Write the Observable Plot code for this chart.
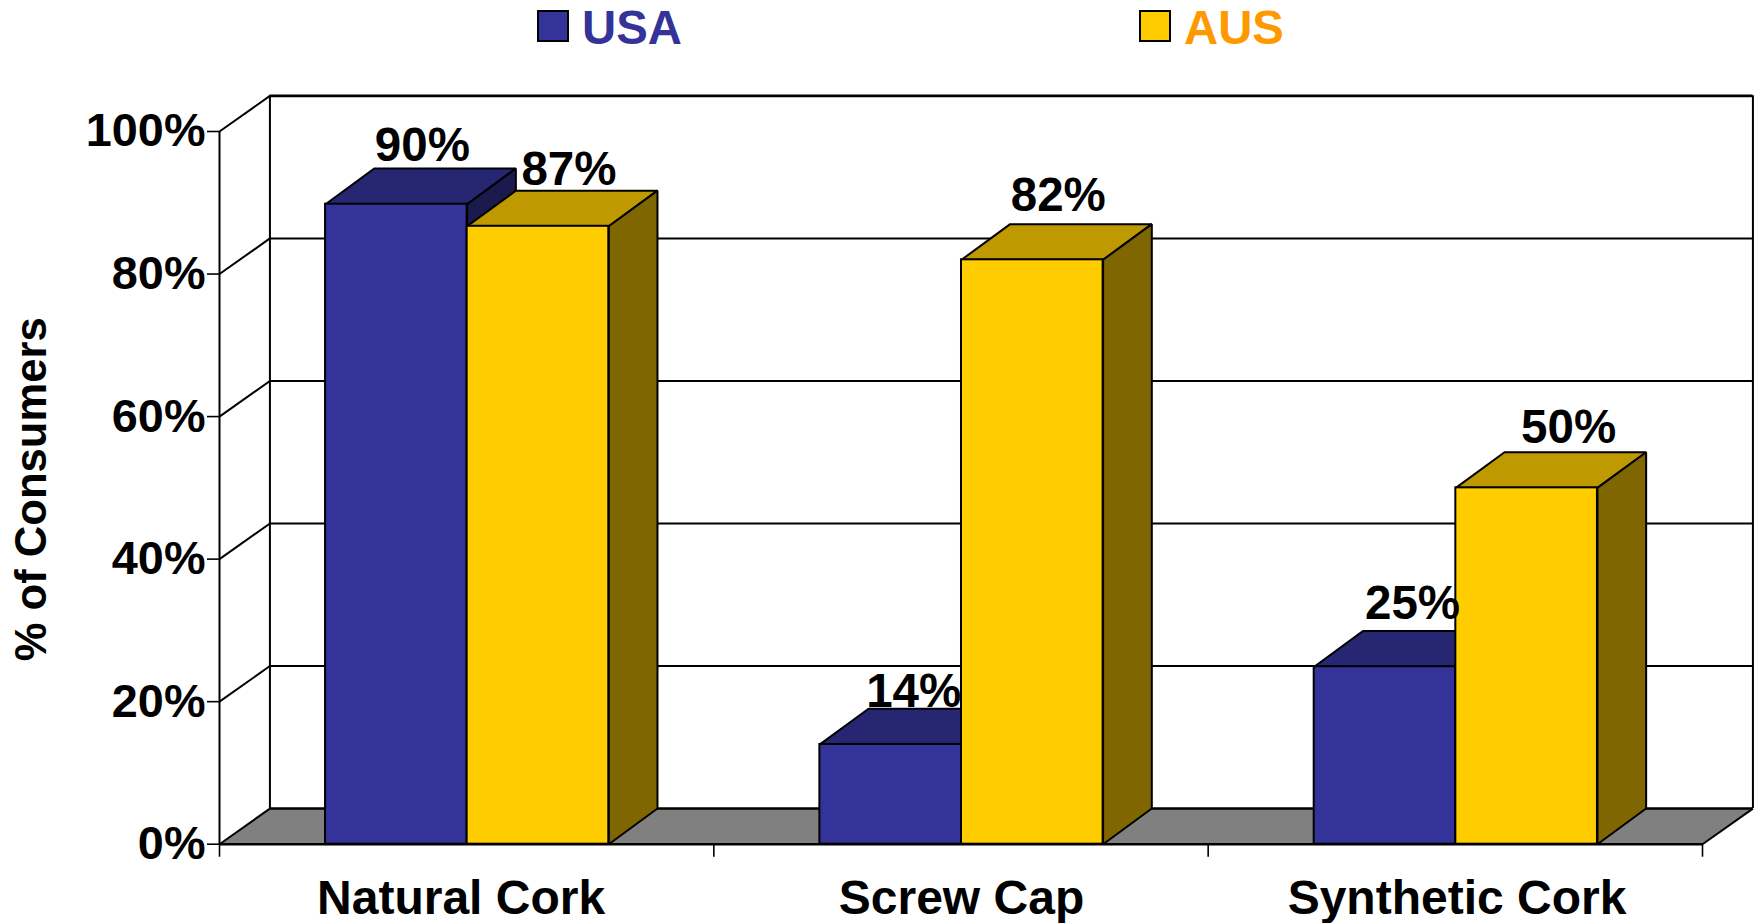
<!DOCTYPE html>
<html>
<head>
<meta charset="utf-8">
<script src="https://cdn.jsdelivr.net/npm/d3@7"></script>
<script src="https://cdn.jsdelivr.net/npm/@observablehq/plot@0.6"></script>
<style>
  html, body { margin: 0; padding: 0; background: #fff; overflow: hidden; }
  #legend { position: relative; height: 60px; width: 1757px; font: bold 47.3px/46px "Liberation Sans", Arial, sans-serif; }
  #legend .sw { position: absolute; top: 10px; width: 32px; height: 32px; box-sizing: border-box; border: 2px solid #000; }
  #legend .tx { position: absolute; top: 5px; }
</style>
</head>
<body>
<div id="legend"></div>
<div id="chart"></div>
<script>
// Data
const categories = ["Natural Cork", "Screw Cap", "Synthetic Cork"];
const seriesNames = ["USA", "AUS"];
const usa = [89.8, 14, 24.9];
const aus = [86.7, 82, 50];
const yTicks = [0, 20, 40, 60, 80, 100];
const xBoundaries = [0, 1, 2, 3];

// Styling
const faceColors = {
  USA: { front: "#333399", top: "#262673", side: "#1A1A4D" },
  AUS: { front: "#FFCC00", top: "#BF9900", side: "#806600" }
};
const legendColors = { USA: "#333399", AUS: "#FF9900" };
const legendPos = { USA: [537, 582], AUS: [1139, 1184] };
const font = "'Liberation Sans', Arial, sans-serif";

// 3D projection in data units
const wallDX = 0.102, depthY = 5, barDepthX = 0.0985;
const groupPad = 0.2145, barW = 0.2865;

// Hand placement of the labels (px offsets)
const labelNudge = {
  USA: [[26, -43], [23, -37], [27.5, -48]],
  AUS: [[31, -41], [26, -48.5], [42, -45]]
};
const categoryNudge = [-5.6, 0.5, 1.7];

// Legend
const legend = document.getElementById("legend");
for (const s of seriesNames) {
  const sw = document.createElement("div");
  sw.className = "sw";
  sw.style.left = legendPos[s][0] + "px";
  sw.style.background = faceColors[s].front;
  const tx = document.createElement("div");
  tx.className = "tx";
  tx.style.left = legendPos[s][1] + "px";
  tx.style.color = legendColors[s];
  tx.textContent = s;
  legend.append(sw, tx);
}

const values = { USA: usa, AUS: aus };
const line = { stroke: "#000", strokeWidth: 2 };

// Back walls and floor
const walls = [
  Plot.line([[0, 0], [3, 0], [3 + wallDX, depthY], [wallDX, depthY]], {
    x: d => d[0], y: d => d[1], fill: "#808080", stroke: "none", curve: "linear-closed"
  }),
  Plot.ruleY(yTicks.slice(1, -1), { y: d => d + depthY, x1: wallDX, x2: 3 + wallDX, ...line }),
  Plot.ruleY([100], { y: d => d + depthY, x1: wallDX, x2: 3 + wallDX, stroke: "#000", strokeWidth: 2.6 }),
  Plot.ruleY([0], { y: d => d + depthY, x1: wallDX, x2: 3 + wallDX, stroke: "#000", strokeWidth: 2.6 }),
  Plot.link(yTicks, { x1: 0, y1: d => d, x2: wallDX, y2: d => d + depthY, ...line }),
  Plot.link([0], { x1: 3, y1: 0, x2: 3 + wallDX, y2: depthY, ...line }),
  Plot.ruleX([0], { y1: 0, y2: 100, ...line }),
  Plot.ruleX([wallDX, 3 + wallDX], { y1: depthY, y2: 100 + depthY, ...line })
];

// Bars: top, side, front for each series in each category
const bars = categories.flatMap((c, i) => seriesNames.flatMap((s, k) => {
  const v = values[s][i];
  const l = i + groupPad + k * barW, r = l + barW;
  const col = faceColors[s];
  const poly = (pts, fill) => Plot.line(pts, {
    x: d => d[0], y: d => d[1], fill, stroke: "#000", strokeWidth: 2,
    strokeLinejoin: "miter", curve: "linear-closed"
  });
  return [
    poly([[l, v], [r, v], [r + barDepthX, v + depthY], [l + barDepthX, v + depthY]], col.top),
    poly([[r, 0], [r + barDepthX, depthY], [r + barDepthX, v + depthY], [r, v]], col.side),
    Plot.rect([{ l, r, v }], { x1: "l", x2: "r", y1: 0, y2: "v", fill: col.front, stroke: "#000", strokeWidth: 2 })
  ];
}));

// Value labels, on top of all bars
const labels = categories.flatMap((c, i) => seriesNames.map((s, k) => {
  const v = values[s][i];
  const centre = i + groupPad + (k + 0.5) * barW;
  return Plot.text([v], {
    x: centre, y: d => d, text: d => Math.round(d) + "%",
    dx: labelNudge[s][i][0], dy: labelNudge[s][i][1],
    lineAnchor: "bottom", fontSize: 47.5, fontWeight: "bold", fill: "#000"
  });
}));

const categoryLabels = categories.map((c, i) => Plot.text([c], {
  x: i + 0.5, y: 0, text: d => d, dx: categoryNudge[i], dy: 69.5,
  lineAnchor: "bottom", fontSize: 48, fontWeight: "bold", fill: "#000"
}));

const chart = Plot.plot({
  width: 1757,
  height: 863,
  marginLeft: 219,
  marginRight: 55,
  marginTop: 71,
  marginBottom: 79.3,
  style: { fontFamily: font, background: "#fff", display: "block", maxWidth: "none", color: "#000" },
  x: { type: "linear", domain: [0, 3] },
  y: { domain: [0, 100] },
  marks: [
    ...walls,
    ...bars,
    Plot.ruleY([0], { x1: 0, x2: 3, stroke: "#000", strokeWidth: 2.4 }),
    Plot.axisY({
      ticks: yTicks, tickSize: 12, tickPadding: 2, tickFormat: d => d + "%",
      fontSize: 46.8, fontWeight: "bold", label: null, strokeWidth: 1.6
    }),
    Plot.axisX({ ticks: xBoundaries, tickSize: 13, tickFormat: () => "", label: null, strokeWidth: 1.6 }),
    ...categoryLabels,
    ...labels,
    Plot.text(["% of Consumers"], {
      x: 0, y: 49.8, dx: -173.2, rotate: -90, lineAnchor: "bottom",
      textAnchor: "middle", fontSize: 43.6, fontWeight: "bold", fill: "#000"
    })
  ]
});
document.getElementById("chart").append(chart);
</script>
</body>
</html>
